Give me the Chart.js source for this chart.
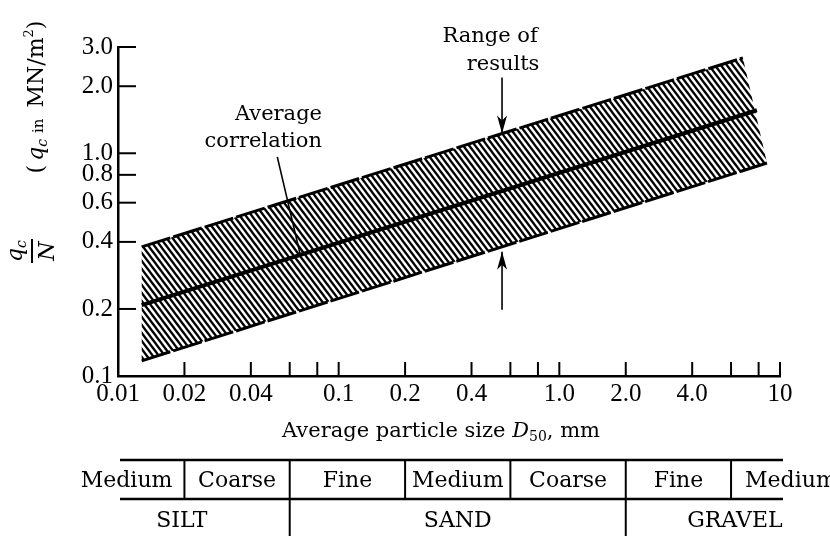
<!DOCTYPE html>
<html>
<head>
<meta charset="utf-8">
<script src="https://cdn.jsdelivr.net/npm/chart.js@4.4.0/dist/chart.umd.min.js"></script>
<style>
  html, body { margin: 0; padding: 0; background: #fff; }
  #wrap { width: 830px; height: 536px; }
</style>
</head>
<body>
<div id="wrap"><canvas id="chart" width="830" height="536"></canvas></div>
<script>
// D50 (mm) against qc/N (MN/m2)
const avgX = [0.0128, 7.86];
const avgY = [0.208, 1.56];
const upperX = [0.0128, 6.79];
const upperY = [0.38, 2.68];
const lowerX = [0.0128, 8.73];
const lowerY = [0.117, 0.904];

const xTickValues = [0.01, 0.02, 0.04, 0.06, 0.08, 0.1, 0.2, 0.4, 0.6, 0.8, 1, 2, 4, 6, 8, 10];
const xTickLabels = ['0.01', '0.02', '0.04', '', '', '0.1', '0.2', '0.4', '', '', '1.0', '2.0', '4.0', '', '', '10'];
const yTickValues = [0.1, 0.2, 0.4, 0.6, 0.8, 1, 2, 3];
const yTickLabels = ['0.1', '0.2', '0.4', '0.6', '0.8', '1.0', '2.0', '3.0'];

// soil classification strip under the axis (boundaries in mm)
const fractionBounds = [0.01, 0.02, 0.06, 0.2, 0.6, 2, 6, 10];
const fractionNames = ['Medium', 'Coarse', 'Fine', 'Medium', 'Coarse', 'Fine', 'Medium'];
const soilBounds = [0.01, 0.06, 2, 10];
const soilNames = ['SILT', 'SAND', 'GRAVEL'];

const pts = (xs, ys) => xs.map((v, i) => ({ x: v, y: ys[i] }));

// value on a straight line in log-log space
function logInterp(xs, ys, v) {
  const t = (Math.log10(v) - Math.log10(xs[0])) / (Math.log10(xs[1]) - Math.log10(xs[0]));
  return Math.pow(10, Math.log10(ys[0]) + t * (Math.log10(ys[1]) - Math.log10(ys[0])));
}

function hatch() {
  const w = 6, h = 8;
  const c = document.createElement('canvas');
  c.width = w; c.height = h;
  const g = c.getContext('2d');
  g.strokeStyle = '#000';
  g.lineWidth = 2.3;
  for (let k = -1; k <= 1; k++) {
    g.beginPath();
    g.moveTo(k * w - w, -h);
    g.lineTo(k * w + 2 * w, 2 * h);
    g.stroke();
  }
  return g.createPattern(c, 'repeat');
}

const SERIF = '"DejaVu Serif"';

function rich(ctx, parts, x, y, align) {
  let w = 0;
  parts.forEach(p => {
    if (p.gap != null) { p.w = p.gap; } else { ctx.font = p.f; p.w = ctx.measureText(p.t).width; }
    w += p.w;
  });
  let cx = align === 'center' ? x - w / 2 : (align === 'right' ? x - w : x);
  ctx.textAlign = 'left';
  ctx.textBaseline = 'alphabetic';
  parts.forEach(p => {
    if (p.t) { ctx.font = p.f; ctx.fillText(p.t, cx, y + (p.dy || 0)); }
    cx += p.w;
  });
}

function seg(ctx, x0, y0, x1, y1) {
  ctx.beginPath(); ctx.moveTo(x0, y0); ctx.lineTo(x1, y1); ctx.stroke();
}

function arrow(ctx, x0, y0, x1, y1) {
  seg(ctx, x0, y0, x1, y1);
  const dir = Math.sign(y1 - y0);
  ctx.beginPath();
  ctx.moveTo(x1, y1);
  ctx.lineTo(x1 - 5, y1 - dir * 18);
  ctx.lineTo(x1, y1 - dir * 13);
  ctx.lineTo(x1 + 5, y1 - dir * 18);
  ctx.closePath();
  ctx.fill();
}

const annot = {
  id: 'annot',
  afterDraw(chart) {
    const { ctx, chartArea: a, scales: { x, y } } = chart;
    ctx.save();
    ctx.strokeStyle = '#000';
    ctx.fillStyle = '#000';

    // tick marks pointing into the plot
    ctx.lineWidth = 2;
    xTickValues.forEach(v => {
      if (v === x.min) return;
      const px = x.getPixelForValue(v);
      seg(ctx, px, a.bottom, px, a.bottom - 14);
    });
    yTickValues.forEach(v => {
      if (v === y.min) return;
      const py = y.getPixelForValue(v);
      seg(ctx, a.left, py, a.left + 18, py);
    });

    // y axis title, rotated
    ctx.save();
    ctx.translate(43, 97);
    ctx.rotate(-Math.PI / 2);
    rich(ctx, [
      { t: '(', f: '22px ' + SERIF },
      { gap: 4 },
      { t: 'q', f: 'italic 22px ' + SERIF },
      { t: 'c', f: 'italic 14px ' + SERIF, dy: 4 },
      { gap: 6 },
      { t: 'in', f: '15px ' + SERIF },
      { gap: 11 },
      { t: 'MN/m', f: '22px ' + SERIF },
      { t: '2', f: '13px ' + SERIF, dy: -10 },
      { t: ')', f: '22px ' + SERIF }
    ], 0, 0, 'center');
    ctx.restore();

    ctx.save();
    ctx.translate(32, 251);
    ctx.rotate(-Math.PI / 2);
    rich(ctx, [
      { t: 'q', f: 'italic 22px ' + SERIF },
      { t: 'c', f: 'italic 14px ' + SERIF, dy: 4 }
    ], 0, -10, 'center');
    ctx.lineWidth = 2;
    seg(ctx, -12, 0, 12, 0);
    rich(ctx, [{ t: 'N', f: 'italic 22px ' + SERIF }], 0, 22, 'center');
    ctx.restore();

    // x axis title
    rich(ctx, [
      { t: 'Average particle size ', f: '21px ' + SERIF },
      { t: 'D', f: 'italic 21px ' + SERIF },
      { t: '50', f: '14px ' + SERIF, dy: 4 },
      { t: ', mm', f: '21px ' + SERIF }
    ], 441, 437, 'center');

    // "Range of results" arrows
    const rx = x.getPixelForValue(0.55);
    const upTip = y.getPixelForValue(logInterp(upperX, upperY, 0.55));
    const loTip = y.getPixelForValue(logInterp(lowerX, lowerY, 0.55)) + 5;
    ctx.lineWidth = 1.6;
    arrow(ctx, rx, upTip - 56, rx, upTip);
    arrow(ctx, rx, loTip + 58, rx, loTip);
    ctx.font = '21px ' + SERIF;
    ctx.textAlign = 'center';
    ctx.textBaseline = 'alphabetic';
    ctx.fillText('Range of', rx - 12, 42);
    ctx.fillText('results', rx + 1, 70);

    // "Average correlation" pointer
    const ax = x.getPixelForValue(0.067);
    const ay = y.getPixelForValue(logInterp(avgX, avgY, 0.067));
    ctx.lineWidth = 1.6;
    seg(ctx, ax - 23, ay - 98, ax, ay);
    ctx.textAlign = 'right';
    ctx.fillText('Average', 322, 120);
    ctx.fillText('correlation', 322, 147);

    // classification table
    const top = 460, mid = 499, bot = 536;
    const xl = x.getPixelForValue(fractionBounds[0]) + 2;
    const xr = x.getPixelForValue(fractionBounds[fractionBounds.length - 1]) + 3;
    ctx.lineWidth = 2.5;
    seg(ctx, xl, top, xr, top);
    seg(ctx, xl, mid, xr, mid);
    ctx.lineWidth = 2;
    fractionBounds.slice(1, -1).forEach(v => {
      const px = x.getPixelForValue(v);
      seg(ctx, px, top, px, mid);
    });
    soilBounds.slice(1, -1).forEach(v => {
      const px = x.getPixelForValue(v);
      seg(ctx, px, mid, px, bot);
    });

    ctx.font = '22px ' + SERIF;
    const n = fractionNames.length;
    fractionNames.forEach((name, i) => {
      const l = x.getPixelForValue(fractionBounds[i]);
      const r = x.getPixelForValue(fractionBounds[i + 1]);
      let tx = (l + r) / 2, al = 'center';
      if (i === 0) { tx = r - 12; al = 'right'; }
      if (i === n - 1) { tx = l + 14; al = 'left'; }
      ctx.textAlign = al;
      ctx.fillText(name, tx, 487);
    });
    const soilShift = [-22, 0, 32];
    ctx.textAlign = 'center';
    soilNames.forEach((name, i) => {
      const l = x.getPixelForValue(soilBounds[i]);
      const r = x.getPixelForValue(soilBounds[i + 1]);
      ctx.fillText(name, (l + r) / 2 + soilShift[i], 527);
    });

    ctx.restore();
  }
};

const tickFont = { family: 'Liberation Serif', size: 25 };

new Chart(document.getElementById('chart'), {
  type: 'scatter',
  data: {
    datasets: [
      { data: pts(avgX, avgY), showLine: true, borderColor: '#000', borderWidth: 4, pointRadius: 0, fill: false },
      { data: pts(upperX, upperY), showLine: true, borderColor: '#000', borderWidth: 3, borderDash: [30, 3], pointRadius: 0, fill: false },
      { data: pts(lowerX, lowerY), showLine: true, borderColor: '#000', borderWidth: 3, borderDash: [30, 3], pointRadius: 0, fill: false },
      {
        data: [
          { x: upperX[0], y: upperY[0] }, { x: upperX[1], y: upperY[1] },
          { x: lowerX[1], y: lowerY[1] }, { x: lowerX[0], y: lowerY[0] }
        ],
        showLine: true, borderWidth: 0, borderColor: 'rgba(0,0,0,0)',
        backgroundColor: hatch(), fill: 'shape', pointRadius: 0
      }
    ]
  },
  options: {
    responsive: false,
    animation: false,
    devicePixelRatio: 1,
    layout: { padding: { top: 47, right: 50, left: 0, bottom: 0 } },
    plugins: { legend: { display: false }, tooltip: { enabled: false } },
    scales: {
      x: {
        type: 'logarithmic', min: 0.01, max: 10, bounds: 'data',
        grid: { display: false },
        border: { display: true, color: '#000', width: 2.5 },
        afterBuildTicks: s => { s.ticks = xTickValues.map(v => ({ value: v })); },
        afterFit: s => { s.height = 160; },
        ticks: {
          autoSkip: false, maxRotation: 0, padding: -5, color: '#000', font: tickFont,
          callback: v => xTickLabels[xTickValues.indexOf(v)]
        }
      },
      y: {
        type: 'logarithmic', min: 0.1, max: 3, bounds: 'data',
        grid: { display: false },
        border: { display: true, color: '#000', width: 2.5 },
        afterBuildTicks: s => { s.ticks = yTickValues.map(v => ({ value: v })); },
        afterFit: s => { s.width = 118; },
        ticks: {
          autoSkip: false, padding: -3, color: '#000', font: tickFont,
          callback: v => yTickLabels[yTickValues.indexOf(v)]
        }
      }
    }
  },
  plugins: [annot]
});
</script>
</body>
</html>
